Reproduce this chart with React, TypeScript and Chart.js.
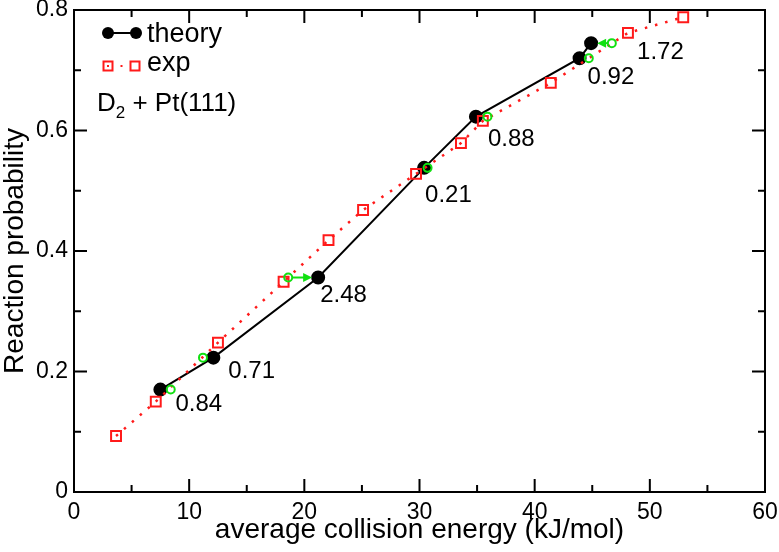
import { useEffect, useRef } from "react";
import { Chart, registerables } from "chart.js";
Chart.register(...registerables);

// theory (black)
const theoryX = [7.5, 12.1, 21.2, 30.4, 34.9, 43.9, 44.9];
const theoryY = [0.170, 0.223, 0.356, 0.538, 0.623, 0.720, 0.745];
// experiment (red squares)
const expX = [3.65, 7.1, 12.5, 18.2, 22.1, 25.1, 29.7, 33.6, 35.5, 41.4, 48.1, 52.9];
const expY = [0.093, 0.150, 0.248, 0.349, 0.418, 0.468, 0.528, 0.579, 0.616, 0.679, 0.762, 0.788];
// experimental energy at same reaction probability (green circles)
const shiftX = [8.4, 11.2, 18.6, 30.7, 35.9, 44.7, 46.7];
const shiftLabels = ["0.84", "0.71", "2.48", "0.21", "0.88", "0.92", "1.72"];
// axis ticks
const xMajor = [0, 10, 20, 30, 40, 50, 60];
const xMinor = [5, 15, 25, 35, 45, 55];
const yMajor = [0, 0.2, 0.4, 0.6, 0.8];
const yMinor = [0.1, 0.3, 0.5, 0.7];

const FONT = "'Liberation Sans', Arial, Helvetica, sans-serif";
const RED = "#ff1a1a";
const GREEN = "#11e011";
// label placement relative to theory points (px): [dx of left edge, dy of centre]
const LABEL_OFFSETS = [[15, 15], [15, 14], [2, 18], [1, 28], [12, 23], [8, 19], [46, 9]];

export default function App() {
  const ref = useRef<HTMLCanvasElement>(null);
  useEffect(() => {
    document.body.style.margin = "0";
    const theory = theoryX.map((x, i) => ({ x, y: theoryY[i] }));
    const exp = expX.map((x, i) => ({ x, y: expY[i] }));
    const shift = shiftX.map((x, i) => ({ x, y: theoryY[i] }));

    const deco = {
      id: "deco",
      afterDatasetsDraw(chart: any) {
        const ctx = chart.ctx;
        const xs = chart.scales.x, ys = chart.scales.y;
        ctx.save();
        // green arrows
        ctx.strokeStyle = GREEN;
        ctx.fillStyle = GREEN;
        ctx.lineWidth = 2;
        shiftX.forEach((sx, i) => {
          const x0 = xs.getPixelForValue(sx);
          const x1 = xs.getPixelForValue(theoryX[i]);
          const y = ys.getPixelForValue(theoryY[i]);
          const dir = Math.sign(x1 - x0);
          const len = Math.abs(x1 - x0);
          if (len < 14) return;
          const start = x0 + dir * 4;
          const tip = x1 - dir * 6;
          ctx.beginPath();
          ctx.moveTo(start, y);
          ctx.lineTo(tip - dir * 6, y);
          ctx.stroke();
          ctx.beginPath();
          ctx.moveTo(tip, y);
          ctx.lineTo(tip - dir * 9, y - 4.5);
          ctx.lineTo(tip - dir * 9, y + 4.5);
          ctx.closePath();
          ctx.fill();
        });
        // shift labels
        ctx.fillStyle = "#000";
        ctx.font = `24px ${FONT}`;
        ctx.textAlign = "left";
        ctx.textBaseline = "middle";
        shiftLabels.forEach((t, i) => {
          const px = xs.getPixelForValue(theoryX[i]);
          const py = ys.getPixelForValue(theoryY[i]);
          ctx.fillText(t, px + LABEL_OFFSETS[i][0], py + LABEL_OFFSETS[i][1]);
        });
        ctx.restore();
      },
      afterDraw(chart: any) {
        const ctx = chart.ctx;
        const { left, right, top, bottom } = chart.chartArea;
        const xs = chart.scales.x, ys = chart.scales.y;
        ctx.save();
        ctx.strokeStyle = "#000";
        ctx.lineWidth = 2;
        ctx.strokeRect(left, top, right - left, bottom - top);
        ctx.beginPath();
        const xt = (v: number, L: number) => {
          const p = xs.getPixelForValue(v);
          ctx.moveTo(p, bottom); ctx.lineTo(p, bottom - L);
          ctx.moveTo(p, top); ctx.lineTo(p, top + L);
        };
        const yt = (v: number, L: number) => {
          const p = ys.getPixelForValue(v);
          ctx.moveTo(left, p); ctx.lineTo(left + L, p);
          ctx.moveTo(right, p); ctx.lineTo(right - L, p);
        };
        xMajor.forEach(v => xt(v, 13));
        xMinor.forEach(v => xt(v, 7));
        yMajor.forEach(v => yt(v, 13));
        yMinor.forEach(v => yt(v, 7));
        ctx.stroke();

        // legend
        ctx.fillStyle = "#000";
        ctx.strokeStyle = "#000";
        ctx.lineWidth = 2;
        ctx.beginPath();
        ctx.moveTo(108, 33); ctx.lineTo(136, 33); ctx.stroke();
        [108, 136].forEach(cx => { ctx.beginPath(); ctx.arc(cx, 33, 6, 0, Math.PI * 2); ctx.fill(); });
        ctx.strokeStyle = RED;
        ctx.fillStyle = RED;
        ctx.lineWidth = 2;
        [108, 135].forEach(cx => ctx.strokeRect(cx - 4.5, 66 - 4.5, 9, 9));
        [108, 121.5].forEach(cx => ctx.fillRect(cx - 1, 65, 2, 2));
        ctx.fillStyle = "#000";
        ctx.font = `27px ${FONT}`;
        ctx.textAlign = "left";
        ctx.textBaseline = "alphabetic";
        ctx.fillText("theory", 147, 42);
        ctx.fillText("exp", 147, 71);
        ctx.font = `26px ${FONT}`;
        ctx.fillText("D", 97, 111);
        let x = 97 + ctx.measureText("D").width;
        ctx.font = `17px ${FONT}`;
        ctx.fillText("2", x, 118);
        x += ctx.measureText("2").width;
        ctx.font = `26px ${FONT}`;
        ctx.fillText(" + Pt(111)", x, 111);
        ctx.restore();
      },
    };

    const chart = new Chart(ref.current as HTMLCanvasElement, {
      type: "scatter",
      data: {
        datasets: [
          {
            label: "theory",
            data: theory,
            showLine: true,
            borderColor: "#000",
            borderWidth: 2,
            pointRadius: 6,
            pointBackgroundColor: "#000",
            pointBorderColor: "#000",
            order: 3,
          },
          {
            label: "exp",
            data: exp,
            showLine: true,
            borderColor: RED,
            borderWidth: 2.5,
            borderDash: [2.5, 8],
            pointStyle: "rect",
            pointRadius: 7,
            pointBorderWidth: 2,
            pointBackgroundColor: "rgba(0,0,0,0)",
            pointBorderColor: RED,
            order: 2,
          },
          {
            label: "shift",
            data: shift,
            showLine: false,
            pointRadius: 4,
            pointBorderWidth: 2,
            pointBackgroundColor: "rgba(0,0,0,0)",
            pointBorderColor: GREEN,
            order: 1,
          },
        ],
      },
      options: {
        animation: false,
        responsive: true,
        maintainAspectRatio: false,
        layout: { padding: { top: 10, right: 14, left: 0, bottom: 0 } },
        plugins: { legend: { display: false }, tooltip: { enabled: false } },
        scales: {
          x: {
            type: "linear",
            min: 0,
            max: 60,
            ticks: {
              stepSize: 10,
              color: "#000",
              padding: 9,
              maxRotation: 0,
              font: { family: FONT, size: 23, lineHeight: 1 },
            },
            grid: { display: false, drawTicks: false },
            border: { display: false },
            title: {
              display: true,
              text: "average collision energy (kJ/mol)",
              color: "#000",
              font: { family: FONT, size: 28, lineHeight: 1 },
              padding: { top: 0, bottom: 8 },
            },
            afterFit: (s: any) => {
              s.height = 60;
              s.paddingLeft = 0;
              s.paddingRight = 0;
            },
          },
          y: {
            min: 0,
            max: 0.8,
            ticks: {
              stepSize: 0.2,
              color: "#000",
              padding: 6,
              font: { family: FONT, size: 23, lineHeight: 1 },
              callback: (v: any) => (Number(v) === 0 ? "0" : Number(v).toFixed(1)),
            },
            grid: { display: false, drawTicks: false },
            border: { display: false },
            title: {
              display: true,
              text: "Reaction probability",
              color: "#000",
              font: { family: FONT, size: 28, lineHeight: 1 },
              padding: { top: 1, bottom: 0 },
            },
            afterFit: (s: any) => {
              s.width = 74;
              s.paddingTop = 0;
              s.paddingBottom = 0;
            },
          },
        },
      },
      plugins: [deco],
    });
    return () => chart.destroy();
  }, []);

  return (
    <div style={{ position: "relative", width: 779, height: 552 }}>
      <canvas ref={ref} />
    </div>
  );
}
